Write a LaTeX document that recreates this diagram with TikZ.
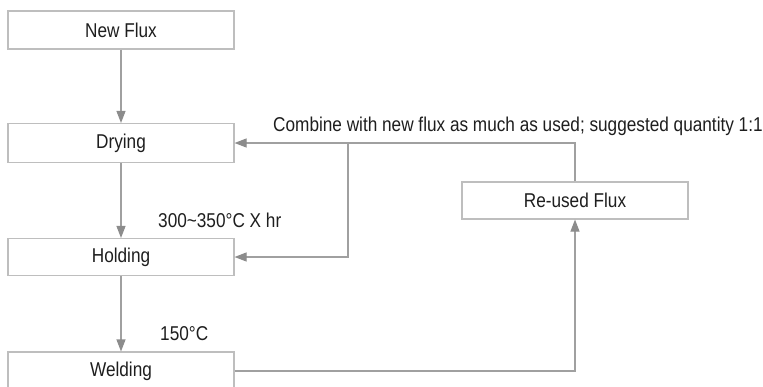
\documentclass[tikz,border=0pt]{standalone}
\usepackage{fontspec}
\setmainfont{Liberation Sans}[FakeStretch=0.86]
\usetikzlibrary{arrows.meta}
\definecolor{boxgray}{RGB}{190,190,190}
\definecolor{linegray}{RGB}{160,160,160}
\definecolor{tipgray}{RGB}{140,140,140}
\definecolor{txt}{RGB}{30,30,30}
\begin{document}
\begin{tikzpicture}[x=1pt,y=-1pt,
  stepbox/.style={draw=boxgray,line width=1.1pt,minimum width=226pt,minimum height=38pt,
    inner sep=0pt,font=\fontsize{20}{24}\selectfont,text=txt},
  conn/.style={draw=linegray,line width=1.1pt},
  arr/.style={conn,-{Triangle[length=12pt,width=9pt,fill=tipgray,color=tipgray]}},
  lbl/.style={font=\fontsize{20}{24}\selectfont,text=txt,inner sep=0pt,anchor=base west}]
\useasboundingbox (0,0) rectangle (763,386);
\node[stepbox] (newflux) at (121,30) {New Flux};
\node[stepbox,minimum height=39pt] (drying) at (121,143) {Drying};
\node[stepbox,minimum height=37pt] (holding) at (121,257) {Holding};
\node[stepbox] (welding) at (121,371) {Welding};
\node[stepbox,minimum height=37pt] (reused) at (575,200.5) {Re-used Flux};
\coordinate (wr) at (575,371);
\coordinate (rt) at (575,143);
\coordinate (br) at (348,143);
\coordinate (bh) at (348,257);
\draw[arr] (newflux) -- (drying);
\draw[arr] (drying) -- (holding);
\draw[arr] (holding) -- (welding);
\draw[arr] (welding.east) -- (wr) -- (reused.south);
\draw[arr] (reused.north) -- (rt) -- (drying.east);
\draw[arr] (br) -- (bh) -- (holding.east);
\node[lbl] (combine) at (273,131) {Combine with new flux as much as used; suggested quantity 1:1};
\node[lbl] (temp1) at (158,227) {300\textasciitilde 350°C X hr};
\node[lbl] (temp2) at (160,340) {150°C};
\end{tikzpicture}
\end{document}
